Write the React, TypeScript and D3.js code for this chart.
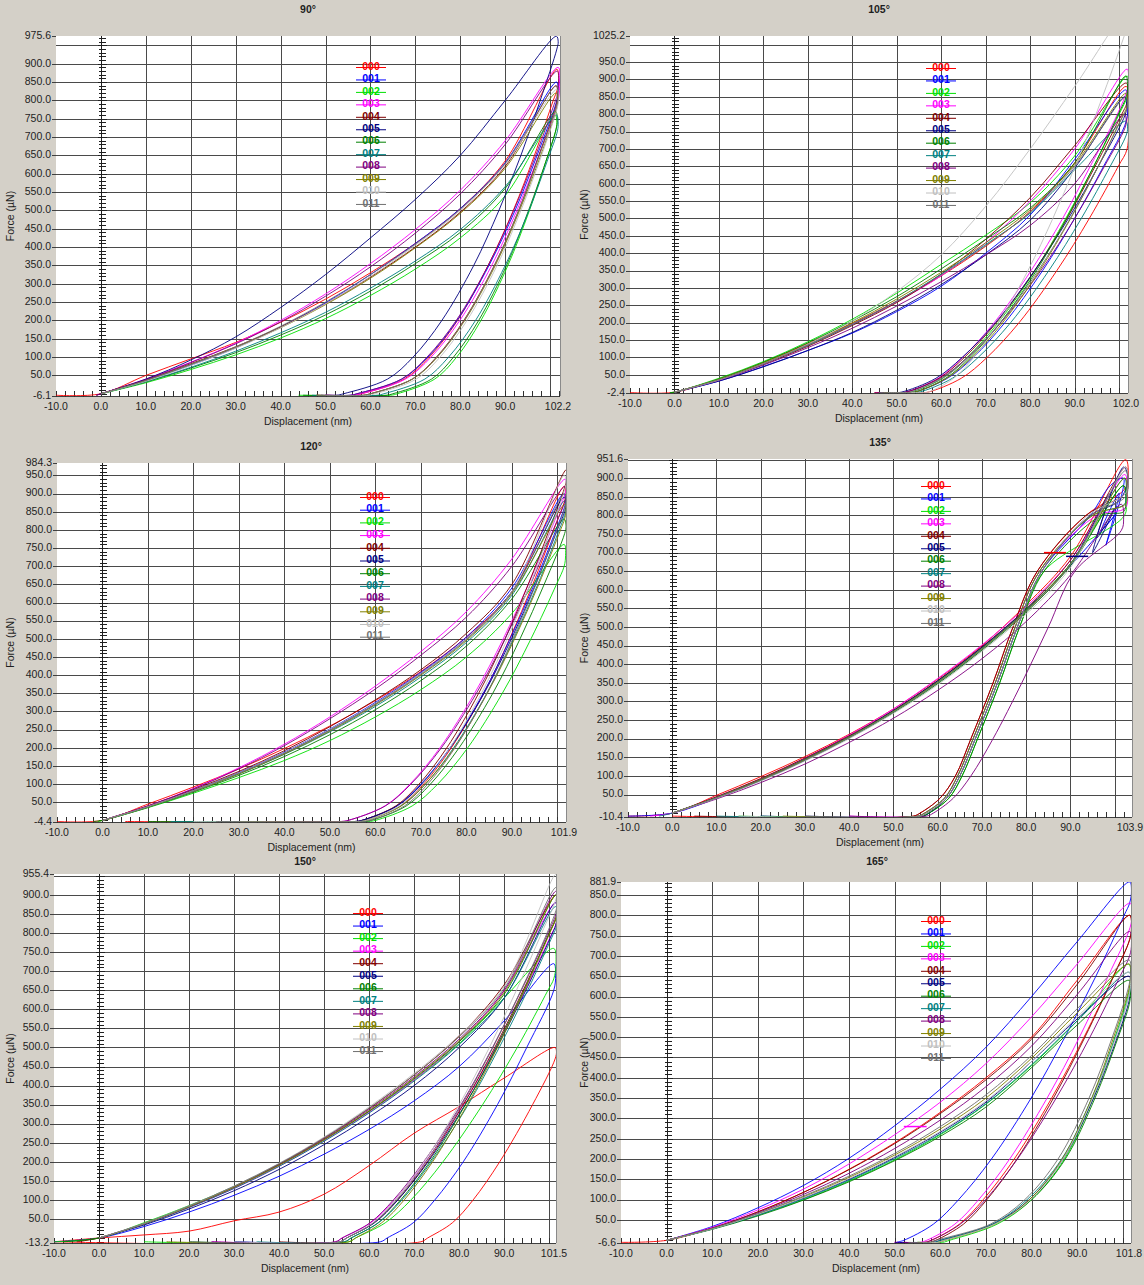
import React from 'react';
import * as d3 from 'd3';

// ---------- shared ----------
const SERIES = ['000', '001', '002', '003', '004', '005', '006', '007', '008', '009', '010', '011'];
const COLORS = ['#ff0000', '#0000ff', '#00e000', '#ff00ff', '#800000', '#000080', '#008000', '#008080', '#800080', '#808000', '#c0c0c0', '#707070'];
const TITLES = ['90°', '105°', '120°', '135°', '150°', '165°'];
const X_MIN = -10;
const X_MAX = [102.2, 102.0, 101.9, 103.9, 101.5, 101.8];
const Y_MIN = [-6.1, -2.4, -4.4, -10.4, -13.2, -6.6];
const Y_MAX = [975.6, 1025.2, 984.3, 951.6, 955.4, 881.9];
const BASE = [-4, -1, -3, -8, -10, -5];
// loading: force read at these displacements
const LOAD_X = [0, 10, 20, 30, 40, 50, 60, 70, 80, 90];
// unloading: displacement read at these forces
const UNLOAD_F = [800, 650, 500, 350, 200, 100, 40, 0];

// ---------- 90° ----------
const P90_LOAD = [
  [0, 50, 95, 140, 195, 258, 330, 410, 505, 635],
  [0, 36, 78, 125, 182, 248, 325, 410, 505, 630],
  [0, 30, 66, 106, 152, 205, 268, 340, 425, 540],
  [0, 40, 86, 138, 200, 272, 355, 448, 555, 690],
  [0, 38, 82, 128, 182, 245, 318, 400, 495, 620],
  [0, 40, 92, 155, 235, 325, 425, 530, 650, 800],
  [0, 32, 70, 112, 160, 215, 280, 355, 440, 560],
  [0, 33, 72, 116, 166, 222, 288, 362, 448, 565],
  [0, 38, 85, 136, 196, 266, 346, 438, 545, 680],
  [0, 36, 80, 126, 180, 243, 315, 398, 492, 615],
  [0, 34, 77, 124, 180, 245, 320, 405, 500, 625],
  [0, 36, 80, 128, 184, 250, 325, 408, 503, 628],
];
const P90_HOLD = [
  [101.5, 885, 101.9, 860, 101.6, 830],
  [101.4, 850, 101.8, 825, 101.5, 800],
  [101.1, 760, 101.5, 740, 101.2, 715],
  [101.8, 890, 102.1, 850, 101.8, 800],
  [101.3, 840, 101.7, 815, 101.4, 790],
  [101.4, 975, 101.8, 960, 101.5, 940],
  [101.2, 770, 101.6, 745, 101.3, 720],
  [101.4, 760, 101.8, 735, 101.5, 710],
  [101.6, 880, 101.9, 850, 101.6, 815],
  [101.3, 820, 101.7, 800, 101.4, 775],
  [101.5, 830, 101.9, 805, 101.6, 780],
  [101.4, 840, 101.8, 815, 101.5, 790],
];
const P90_UNLOAD = [
  [100.7, 96.5, 91.8, 86.2, 79.4, 73.1, 67.5, 58],
  [null, 97.1, 92.2, 86.4, 79.3, 72.8, 67.0, 57],
  [null, 99.5, 95.4, 90.6, 84.6, 79.2, 74.3, 66],
  [null, 97.5, 92.6, 87.0, 79.9, 73.5, 67.8, 58],
  [null, 97.5, 93.0, 87.6, 80.8, 74.7, 69.3, 60],
  [97.8, 93.5, 88.6, 83.0, 75.9, 69.5, 63.8, 54],
  [null, 99.5, 95.2, 90.3, 84.1, 78.5, 73.6, 65],
  [null, 99.8, 95.3, 90.0, 83.4, 77.4, 72.1, 63],
  [101.2, 96.8, 91.9, 86.2, 79.1, 72.6, 66.9, 57],
  [null, 97.9, 93.2, 87.8, 81.0, 74.9, 69.4, 60],
  [null, 98.1, 93.5, 88.2, 81.5, 75.5, 70.2, 61],
  [null, 97.6, 93.0, 87.6, 80.9, 74.8, 69.3, 60],
];
const P90_START = [-10, -1, 0, 0, -1, 0, 0, 0, -1, 0, 0, 0];
const P90_RETRACT = [48, 50, 44, 50, 50, 49, 45, 47, 50, 48, 50, 48];

// ---------- 105° ----------
const P105_LOAD = [
  [0, 38, 85, 140, 198, 262, 335, 420, 520, 660],
  [0, 32, 74, 120, 170, 232, 305, 400, 510, 670],
  [0, 40, 88, 145, 210, 285, 368, 452, 545, 680],
  [0, 36, 82, 135, 195, 260, 335, 430, 550, 700],
  [0, 35, 80, 132, 192, 258, 340, 440, 560, 710],
  [0, 32, 73, 120, 172, 236, 310, 395, 495, 645],
  [0, 38, 86, 142, 205, 275, 355, 440, 530, 660],
  [0, 36, 82, 135, 195, 262, 340, 425, 515, 640],
  [0, 34, 78, 128, 184, 248, 318, 395, 480, 600],
  [0, 37, 84, 138, 200, 268, 345, 430, 525, 655],
  [0, 35, 82, 138, 205, 290, 395, 535, 700, 880],
  [0, 36, 82, 136, 196, 262, 338, 422, 518, 650],
];
const P105_HOLD = [
  [101.6, 880, 102.0, 800, 101.8, 700],
  [101.5, 870, 101.9, 830, 101.6, 780],
  [101.8, 910, 102.1, 880, 101.8, 850],
  [101.8, 930, 102.1, 900, 101.8, 870],
  [101.6, 890, 102.0, 860, 101.7, 830],
  [101.3, 850, 101.7, 825, 101.4, 800],
  [101.5, 910, 101.9, 880, 101.6, 850],
  [101.5, 780, 101.9, 760, 101.6, 740],
  [101.2, 800, 101.6, 780, 101.3, 760],
  [101.5, 860, 101.9, 840, 101.6, 815],
  [102.0, 1100, 102.3, 1080, 102.0, 1060],
  [101.5, 850, 101.9, 830, 101.6, 810],
];
const P105_UNLOAD = [
  [null, 99.8, 93.3, 86.0, 77.5, 70.3, 64.5, 57],
  [null, 96.5, 90.0, 82.8, 74.3, 67.2, 61.4, 54],
  [100.0, 94.3, 88.0, 81.1, 72.8, 65.8, 60.2, 53],
  [99.6, 93.5, 87.3, 80.2, 71.9, 64.8, 59.3, 52],
  [100.6, 94.6, 88.3, 81.0, 72.4, 65.2, 59.5, 52],
  [null, 95.3, 88.6, 81.0, 72.2, 64.7, 58.8, 51],
  [99.8, 94.3, 88.2, 81.4, 73.3, 66.5, 61.0, 54],
  [null, 98.0, 91.5, 84.2, 75.6, 68.3, 62.5, 55],
  [null, 96.7, 90.0, 82.4, 73.4, 65.9, 59.8, 52],
  [101.0, 95.3, 89.1, 82.1, 73.8, 66.9, 61.2, 54],
  [94.8, 90.1, 85.1, 79.5, 72.9, 67.3, 62.8, 57],
  [101.1, 95.3, 89.0, 81.8, 73.3, 66.1, 60.4, 53],
];
const P105_START = [-10, 0, -1, 0, 0, 0, -1, 0, 0, 0, 0, 0];
const P105_RETRACT = [45, 48, 46, 47, 48, 46, 47, 48, 45, 47, 48, 46];

// ---------- 120° ----------
const P120_LOAD = [
  [0, 45, 92, 142, 198, 260, 330, 410, 505, 630],
  [0, 38, 82, 132, 188, 252, 325, 408, 505, 640],
  [0, 35, 75, 118, 165, 220, 285, 360, 450, 570],
  [0, 40, 88, 145, 210, 285, 370, 465, 575, 720],
  [0, 40, 85, 135, 192, 258, 332, 415, 515, 650],
  [0, 38, 82, 130, 186, 250, 322, 405, 500, 630],
  [0, 36, 78, 124, 176, 236, 305, 385, 480, 610],
  [0, 37, 80, 128, 182, 244, 314, 395, 490, 620],
  [0, 40, 87, 142, 206, 280, 362, 455, 560, 700],
  [0, 37, 80, 128, 183, 246, 318, 400, 495, 625],
  [0, 38, 82, 131, 187, 251, 323, 405, 500, 630],
  [0, 37, 81, 130, 185, 248, 320, 402, 498, 628],
];
const P120_HOLD = [
  [101.5, 920, 101.9, 900, 101.6, 880],
  [101.4, 900, 101.8, 880, 101.5, 860],
  [101.5, 760, 101.8, 730, 101.5, 700],
  [101.7, 940, 102.0, 920, 101.7, 900],
  [101.9, 965, 102.1, 950, 101.9, 930],
  [101.5, 890, 101.9, 870, 101.6, 850],
  [101.5, 830, 101.9, 810, 101.6, 790],
  [101.6, 880, 101.9, 860, 101.6, 840],
  [101.7, 920, 102.0, 900, 101.7, 880],
  [101.6, 870, 101.9, 850, 101.6, 830],
  [101.5, 950, 101.9, 930, 101.6, 910],
  [101.6, 900, 101.9, 880, 101.6, 860],
];
const P120_UNLOAD = [
  [99.2, 94.6, 89.5, 83.8, 76.7, 70.6, 65.5, 58],
  [99.7, 94.9, 89.6, 83.7, 76.4, 70.0, 64.7, 57],
  [null, 99.8, 94.2, 87.9, 80.3, 73.7, 68.1, 60],
  [98.6, 93.6, 88.1, 81.8, 74.2, 67.6, 62.1, 54],
  [98.2, 93.6, 88.5, 82.7, 75.7, 69.6, 64.5, 57],
  [100.0, 95.2, 89.9, 83.9, 76.5, 70.2, 64.8, 57],
  [null, 97.1, 91.8, 85.8, 78.4, 72.1, 66.8, 59],
  [100.4, 95.7, 90.4, 84.5, 77.2, 71.0, 65.6, 58],
  [99.1, 94.1, 88.5, 82.2, 74.5, 67.8, 62.2, 54],
  [100.7, 95.9, 90.6, 84.6, 77.4, 71.0, 65.7, 58],
  [98.5, 94.0, 89.0, 83.3, 76.4, 70.4, 65.3, 58],
  [99.9, 95.3, 90.2, 84.5, 77.5, 71.5, 66.4, 59],
];
const P120_START = [-10, 0, -1, 0, 0, 0, -2, 0, 0, 0, 0, 0];
const P120_RETRACT = [5, 30, 20, 40, 25, 40, 10, 15, 35, 30, 20, 25];

// ---------- 135° ----------
const P135_LOAD = [
  [0, 48, 98, 152, 212, 280, 360, 450, 560, 690],
  [0, 40, 88, 142, 204, 275, 355, 445, 545, 665],
  [0, 42, 90, 145, 205, 272, 350, 440, 545, 670],
  [0, 44, 92, 148, 210, 280, 362, 452, 555, 680],
  [0, 44, 93, 148, 208, 276, 356, 447, 550, 680],
  [0, 42, 90, 145, 206, 276, 356, 446, 548, 670],
  [0, 41, 88, 142, 202, 270, 348, 438, 540, 665],
  [0, 42, 90, 144, 204, 273, 352, 442, 545, 670],
  [0, 38, 82, 132, 190, 255, 330, 415, 515, 640],
  [0, 42, 90, 144, 205, 274, 353, 443, 545, 670],
  [0, 40, 86, 140, 200, 268, 345, 435, 535, 660],
  [0, 41, 88, 142, 203, 272, 350, 440, 542, 668],
];
const P135_HOLD = [
  [102.5, 950, 103.0, 900, 102.2, 870],
  [100.0, 800, 97.0, 760, 101.0, 860, 98.0, 720, 102.0, 900, 99.0, 880],
  [102.0, 880, 102.5, 840, 102.2, 800],
  [102.3, 910, 102.8, 870, 102.4, 820],
  [102.5, 930, 103.0, 900, 102.5, 860],
  [99.0, 860, 96.0, 740, 100.0, 820, 95.0, 700, 102.0, 930, 103.0, 900, 101.0, 840],
  [102.0, 880, 102.5, 840, 102.0, 810],
  [102.2, 900, 102.6, 860, 102.2, 830],
  [101.5, 830, 102.0, 790, 101.5, 760],
  [102.3, 900, 102.8, 860, 102.4, 830],
  [102.5, 930, 103.0, 900, 102.5, 860],
  [102.4, 920, 103.0, 890, 102.4, 850],
];
const P135_UNLOAD = [
  [93.5, 82.5, 77.0, 72.5, 67.5, 64.0, 60.5, 56],
  [94.5, 83.5, 78.0, 73.5, 68.5, 65.0, 62.0, 58],
  [null, 84.0, 78.5, 74.0, 69.0, 65.5, 62.5, 58],
  [96.0, 83.0, 77.5, 73.0, 68.0, 64.5, 61.5, 57],
  [93.5, 82.5, 77.0, 72.5, 67.5, 64.0, 60.5, 56],
  [94.5, 83.5, 78.0, 73.5, 68.5, 65.0, 62.0, 58],
  [97.0, 84.0, 78.5, 74.0, 69.0, 65.5, 62.5, 58],
  [95.0, 83.0, 77.5, 73.0, 68.0, 64.5, 61.5, 57],
  [null, 91.0, 85.0, 79.0, 72.5, 67.5, 63.5, 59],
  [95.0, 83.0, 77.5, 73.0, 68.0, 64.5, 61.5, 57],
  [94.0, 83.5, 78.0, 73.5, 68.5, 65.0, 62.0, 57.5],
  [94.5, 83.5, 78.0, 73.5, 68.5, 65.0, 62.0, 57.5],
];
const P135_START = [-10, -10, 0, -5, 0, 0, 0, -3, 0, 0, 0, 0];
const P135_RETRACT = [0, 20, 15, 40, 5, 30, 20, 10, 40, 25, 15, 30];
const P135_EXTRA_SERIES = [0, 5];
const P135_EXTRA = [
  [84, 700, 89, 700],
  [89, 690, 94, 690],
];

// ---------- 150° ----------
const P150_LOAD = [
  [0, 8, 18, 45, 68, 115, 190, 275, 345, 420],
  [0, 30, 68, 112, 162, 220, 285, 360, 450, 570],
  [0, 40, 85, 135, 192, 258, 332, 415, 510, 630],
  [0, 36, 80, 130, 188, 255, 330, 415, 515, 650],
  [0, 37, 82, 134, 194, 262, 340, 428, 530, 665],
  [0, 34, 76, 124, 180, 245, 318, 400, 500, 630],
  [0, 38, 83, 134, 192, 258, 333, 418, 515, 640],
  [0, 36, 80, 130, 188, 254, 328, 412, 508, 630],
  [0, 37, 82, 133, 192, 260, 337, 423, 522, 650],
  [0, 37, 82, 133, 191, 258, 334, 420, 518, 645],
  [0, 38, 84, 136, 196, 265, 344, 432, 532, 660],
  [0, 38, 84, 136, 195, 263, 341, 428, 528, 655],
];
const P150_HOLD = [
  [101.3, 500, 101.6, 490, 101.3, 470],
  [101.0, 720, 101.4, 690, 101.0, 650],
  [101.0, 760, 101.5, 720, 101.0, 680],
  [101.4, 880, 101.8, 850, 101.4, 820],
  [101.5, 900, 101.9, 870, 101.5, 840],
  [101.4, 880, 101.8, 850, 101.4, 820],
  [101.5, 900, 101.8, 870, 101.5, 840],
  [101.4, 870, 101.8, 840, 101.4, 810],
  [101.5, 910, 101.9, 880, 101.5, 850],
  [101.5, 900, 101.8, 870, 101.5, 840],
  [101.5, 955, 101.8, 920, 101.5, 890],
  [101.5, 920, 101.9, 890, 101.5, 860],
];
const P150_UNLOAD = [
  [null, null, null, 96.3, 89.0, 83.1, 78.5, 73],
  [null, null, 95.0, 88.5, 80.9, 74.6, 69.8, 64],
  [null, 99.7, 92.9, 85.2, 76.4, 69.3, 63.6, 57],
  [100.6, 94.6, 88.1, 80.9, 72.5, 65.7, 60.4, 54],
  [100.0, 94.2, 87.9, 80.9, 72.9, 66.3, 61.1, 55],
  [100.7, 94.8, 88.4, 81.3, 73.1, 66.4, 61.2, 55],
  [100.0, 94.4, 88.2, 81.4, 73.5, 67.0, 62.0, 56],
  [101.0, 95.2, 88.9, 82.0, 73.8, 67.3, 62.1, 56],
  [99.7, 93.8, 87.4, 80.4, 72.1, 65.4, 60.2, 54],
  [100.1, 94.5, 88.5, 81.8, 74.1, 67.8, 62.8, 57],
  [98.3, 92.7, 86.7, 80.0, 72.2, 65.8, 60.9, 55],
  [99.5, 93.7, 87.5, 80.6, 72.6, 66.1, 61.0, 55],
];
const P150_START = [-10, -10, -10, 0, -5, 0, -8, 0, 0, 0, 0, 0];
const P150_RETRACT = [-10, 30, 10, 25, 40, 30, 20, 35, 25, 15, 30, 20];

// ---------- 165° ----------
const P165_LOAD = [
  [0, 30, 70, 118, 175, 240, 315, 400, 500, 640],
  [0, 34, 80, 135, 202, 282, 372, 475, 600, 735],
  [0, 28, 62, 100, 146, 198, 260, 335, 430, 540],
  [0, 32, 75, 126, 188, 260, 340, 435, 550, 680],
  [0, 30, 70, 118, 174, 238, 312, 395, 495, 630],
  [0, 28, 63, 104, 150, 204, 266, 340, 440, 545],
  [0, 27, 60, 99, 144, 196, 256, 328, 425, 530],
  [0, 28, 62, 102, 148, 201, 262, 336, 432, 540],
  [0, 30, 68, 113, 165, 226, 296, 378, 478, 605],
  [0, 29, 65, 107, 155, 210, 274, 350, 448, 560],
  [0, 28, 64, 105, 152, 206, 268, 343, 440, 550],
  [0, 29, 66, 109, 158, 214, 280, 358, 455, 570],
];
const P165_HOLD = [
  [101.5, 800, 101.9, 770, 101.5, 740],
  [101.5, 882, 101.9, 860, 101.5, 830],
  [101.3, 680, 101.7, 645, 101.3, 610],
  [101.6, 830, 102.0, 800, 101.6, 770],
  [101.5, 800, 101.9, 770, 101.5, 740],
  [101.4, 650, 101.7, 620, 101.4, 590],
  [101.4, 640, 101.7, 610, 101.4, 580],
  [101.4, 660, 101.7, 630, 101.4, 605],
  [101.5, 760, 101.9, 730, 101.5, 700],
  [101.4, 680, 101.7, 650, 101.4, 620],
  [101.4, 660, 101.7, 630, 101.4, 605],
  [101.4, 690, 101.7, 660, 101.4, 630],
];
const P165_UNLOAD = [
  [null, 97.9, 91.5, 84.4, 76.2, 69.4, 64.2, 58],
  [100.3, 94.1, 87.3, 79.9, 71.2, 64.0, 58.5, 52],
  [null, null, 98.3, 93.5, 87.2, 80.0, 72.5, 62],
  [null, 96.8, 90.5, 83.4, 75.2, 68.4, 63.2, 57],
  [null, 98.0, 91.7, 84.8, 76.8, 70.2, 65.1, 59],
  [null, null, 98.8, 93.6, 86.9, 79.5, 71.5, 60],
  [null, null, 99.0, 93.9, 87.4, 80.0, 72.0, 61],
  [null, null, 98.4, 93.2, 86.6, 79.0, 71.5, 60],
  [null, 99.4, 92.8, 85.4, 76.9, 69.9, 64.4, 58],
  [null, null, 98.0, 93.2, 86.7, 79.5, 72.0, 61],
  [null, null, 98.5, 93.4, 86.9, 79.8, 72.0, 61],
  [null, null, 97.7, 92.6, 85.8, 78.5, 71.0, 59],
];
const P165_START = [-10, 0, 0, 0, 0, 0, 0, 0, 0, 0, 0, 0];
const P165_RETRACT = [50, 52, 55, 50, 52, 50, 55, 54, 52, 55, 56, 53];
const P165_EXTRA_SERIES = [3];
const P165_EXTRA = [[52, 280, 57, 280]];

const PANEL_DATA = [
  { load: P90_LOAD, hold: P90_HOLD, unload: P90_UNLOAD, start: P90_START, retract: P90_RETRACT, extraS: [], extra: [] },
  { load: P105_LOAD, hold: P105_HOLD, unload: P105_UNLOAD, start: P105_START, retract: P105_RETRACT, extraS: [], extra: [] },
  { load: P120_LOAD, hold: P120_HOLD, unload: P120_UNLOAD, start: P120_START, retract: P120_RETRACT, extraS: [], extra: [] },
  { load: P135_LOAD, hold: P135_HOLD, unload: P135_UNLOAD, start: P135_START, retract: P135_RETRACT, extraS: P135_EXTRA_SERIES, extra: P135_EXTRA },
  { load: P150_LOAD, hold: P150_HOLD, unload: P150_UNLOAD, start: P150_START, retract: P150_RETRACT, extraS: [], extra: [] },
  { load: P165_LOAD, hold: P165_HOLD, unload: P165_UNLOAD, start: P165_START, retract: P165_RETRACT, extraS: P165_EXTRA_SERIES, extra: P165_EXTRA },
];

// ---------- layout (pixels) ----------
const LAYOUT = [
  { left: 56, right: 560, top: 36, bottom: 396, titleX: 308, titleY: 10, legX: 371, legY: 67, legStep: 12.45, yTitleX: 11 },
  { left: 630, right: 1128, top: 36, bottom: 393, titleX: 879, titleY: 10, legX: 941, legY: 68, legStep: 12.45, yTitleX: 585 },
  { left: 57, right: 566, top: 463, bottom: 822, titleX: 311, titleY: 447, legX: 375, legY: 497, legStep: 12.7, yTitleX: 11 },
  { left: 628, right: 1132, top: 459, bottom: 817, titleX: 880, titleY: 443, legX: 936, legY: 486, legStep: 12.45, yTitleX: 585 },
  { left: 54, right: 556, top: 874, bottom: 1243, titleX: 305, titleY: 862, legX: 368, legY: 913, legStep: 12.55, yTitleX: 11 },
  { left: 621, right: 1131, top: 882, bottom: 1243, titleX: 877, titleY: 862, legX: 936, legY: 921, legStep: 12.45, yTitleX: 585 },
];

const FONT = "'Liberation Sans', Arial, Helvetica, sans-serif";
const TXT = '#1e1e1e';
const GRID = '#4a4a4a';

function seriesPoints(d: any, i: number, base: number): number[][] {
  const pts: number[][] = [];
  if (d.start[i] < 0) pts.push([d.start[i], base]);
  LOAD_X.forEach((lx, k) => pts.push([lx, d.load[i][k]]));
  const h = d.hold[i];
  for (let k = 0; k < h.length; k += 2) pts.push([h[k], h[k + 1]]);
  const lastF = h[h.length - 1];
  UNLOAD_F.forEach((f, k) => {
    const ux = d.unload[i][k];
    if (ux != null && f < lastF) pts.push([ux, f]);
  });
  const xr = d.unload[i][UNLOAD_F.length - 1];
  pts.push([xr - 1.5, base]);
  pts.push([d.retract[i], base]);
  return pts;
}

function Panel({ idx }: { idx: number }) {
  const L = LAYOUT[idx];
  const d = PANEL_DATA[idx];
  const xMax = X_MAX[idx];
  const yMin = Y_MIN[idx];
  const yMax = Y_MAX[idx];
  const base = BASE[idx];
  const x = d3.scaleLinear().domain([X_MIN, xMax]).range([L.left, L.right]);
  const y = d3.scaleLinear().domain([yMin, yMax]).range([L.bottom, L.top]);
  const line = d3
    .line<number[]>()
    .x((p) => x(p[0]))
    .y((p) => y(p[1]))
    .curve(d3.curveCatmullRom.alpha(0.5));
  const px = (v: number) => Math.round(v) + 0.5;

  const hGrid = d3.range(50, yMax, 50);
  const vGrid = d3.range(10, xMax, 10);
  const yLabels = hGrid.filter((v) => yMax - v >= 30);
  const xLabels = d3.range(-10, xMax - 5, 10);
  const ladder = d3.range(Math.ceil(yMin / 10) * 10, yMax, 10);
  const minor = d3.range(-10, xMax, 2);
  const clipId = `clip-${idx}`;
  const midY = (L.top + L.bottom) / 2;
  const midX = (L.left + L.right) / 2;

  return (
    <g>
      <defs>
        <clipPath id={clipId}>
          <rect x={L.left} y={L.top} width={L.right - L.left} height={L.bottom - L.top} />
        </clipPath>
      </defs>
      <text x={L.titleX} y={L.titleY} fontSize={10.5} fontWeight="bold" textAnchor="middle" dominantBaseline="middle" fill={TXT}>
        {TITLES[idx]}
      </text>
      <rect x={L.left} y={L.top} width={L.right - L.left} height={L.bottom - L.top} fill="#ffffff" />
      <g shapeRendering="crispEdges">
        {hGrid.map((v) => (
          <line key={'h' + v} x1={L.left} x2={L.right} y1={px(y(v))} y2={px(y(v))} stroke={GRID} strokeWidth={1} />
        ))}
        {vGrid.map((v) => (
          <line key={'v' + v} x1={px(x(v))} x2={px(x(v))} y1={L.top} y2={L.bottom} stroke={GRID} strokeWidth={1} />
        ))}
        <line x1={px(L.right)} x2={px(L.right)} y1={L.top} y2={L.bottom} stroke="#8a8a8a" />
        <line x1={px(x(0))} x2={px(x(0))} y1={L.top} y2={L.bottom} stroke="#202020" />
        {ladder.map((v) => (
          <line
            key={'l' + v}
            x1={px(x(0)) - (v % 50 === 0 ? 4 : 3)}
            x2={px(x(0)) + (v % 50 === 0 ? 5 : 4)}
            y1={px(y(v))}
            y2={px(y(v))}
            stroke="#202020"
          />
        ))}
        <line x1={L.left} x2={L.right} y1={px(L.bottom)} y2={px(L.bottom)} stroke="#404040" />
        {minor.map((v) => (
          <line key={'m' + v} x1={px(x(v))} x2={px(x(v))} y1={L.bottom - 5} y2={L.bottom + 1} stroke="#303030" />
        ))}
        {[yMin, ...yLabels, yMax].map((v) => (
          <line key={'yt' + v} x1={L.left - 4} x2={L.left} y1={px(y(v))} y2={px(y(v))} stroke="#404040" />
        ))}
      </g>
      <g clipPath={`url(#${clipId})`} fill="none" strokeWidth={1}>
        {SERIES.map((s, i) => (
          <path key={s} d={line(seriesPoints(d, i, base)) || ''} stroke={COLORS[i]} strokeOpacity={0.9} />
        ))}
        {d.extra.map((e: number[], k: number) => (
          <path
            key={'e' + k}
            d={line([[e[0], e[1]], [e[2], e[3]]]) || ''}
            stroke={COLORS[d.extraS[k]]}
            strokeWidth={1.5}
          />
        ))}
      </g>
      {SERIES.map((s, i) => {
        const ly = L.legY + i * L.legStep;
        return (
          <g key={'lg' + s}>
            <line x1={L.legX - 15} x2={L.legX + 15} y1={ly + 0.5} y2={ly + 0.5} stroke={COLORS[i]} strokeWidth={1} />
            <text x={L.legX} y={ly} fontSize={10.5} fontWeight="bold" textAnchor="middle" dominantBaseline="middle" fill={COLORS[i]}>
              {s}
            </text>
          </g>
        );
      })}
      {[yMin, ...yLabels, yMax].map((v) => (
        <text key={'yl' + v} x={L.left - 5} y={y(v)} fontSize={10.5} textAnchor="end" dominantBaseline="middle" fill={TXT}>
          {v.toFixed(1)}
        </text>
      ))}
      {xLabels.map((v) => (
        <text key={'xl' + v} x={x(v)} y={L.bottom + 11} fontSize={10.5} textAnchor="middle" dominantBaseline="middle" fill={TXT}>
          {v.toFixed(1)}
        </text>
      ))}
      <text x={L.right - 2} y={L.bottom + 11} fontSize={10.5} textAnchor="middle" dominantBaseline="middle" fill={TXT}>
        {xMax.toFixed(1)}
      </text>
      <text x={midX} y={L.bottom + 26} fontSize={10.5} textAnchor="middle" dominantBaseline="middle" fill={TXT}>
        Displacement (nm)
      </text>
      <text
        x={L.yTitleX}
        y={midY}
        fontSize={10.5}
        textAnchor="middle"
        dominantBaseline="middle"
        fill={TXT}
        transform={`rotate(-90 ${L.yTitleX} ${midY})`}
      >
        Force (µN)
      </text>
    </g>
  );
}

export default function App() {
  return (
    <svg
      width={1144}
      height={1285}
      viewBox="0 0 1144 1285"
      style={{ position: 'absolute', left: 0, top: 0, display: 'block' }}
      fontFamily={FONT}
    >
      <rect x={0} y={0} width={1144} height={1285} fill="#d4d0c8" />
      {LAYOUT.map((_, i) => (
        <Panel key={i} idx={i} />
      ))}
    </svg>
  );
}
